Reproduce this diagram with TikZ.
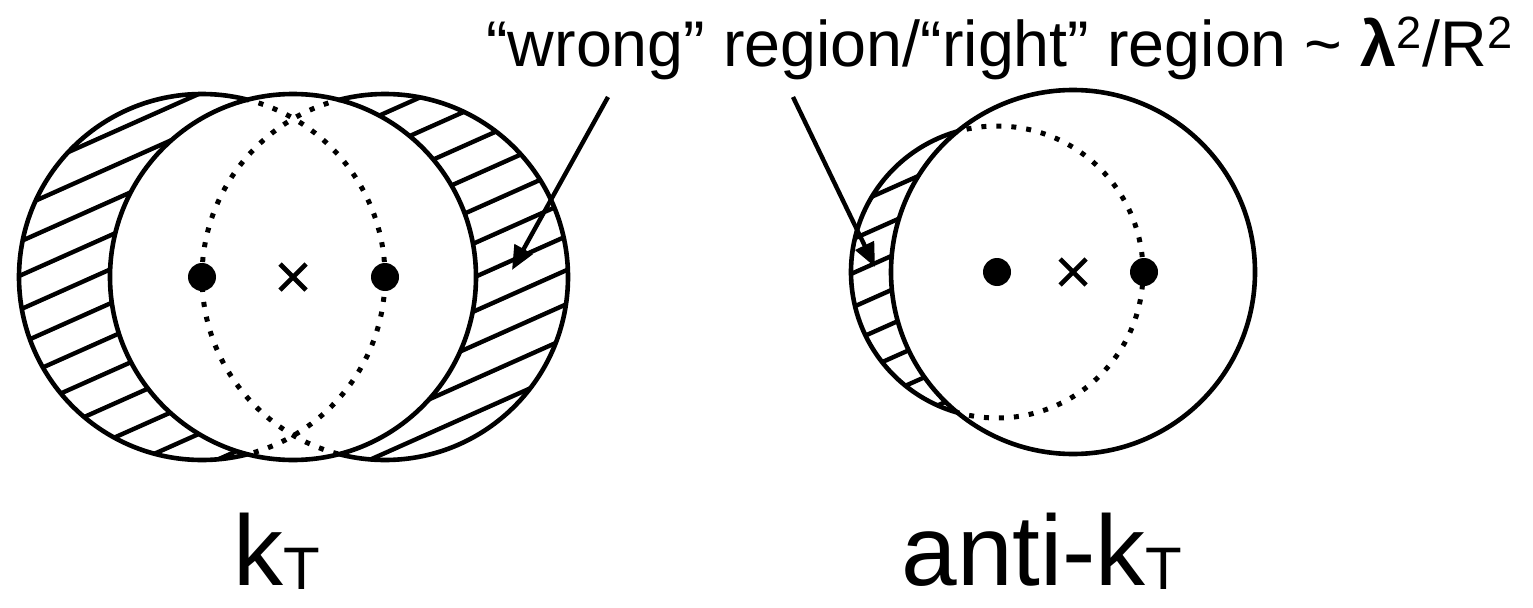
\documentclass[tikz,border=0pt]{standalone}
\usepackage{fontspec}
\setmainfont{Liberation Sans}
\usetikzlibrary{arrows.meta}
\newdimen\unitsize
\setlength{\unitsize}{0.5pt}

\begin{document}
\begin{tikzpicture}[x=\unitsize,y=\unitsize,
  rim/.style={line width=2.3pt},
  dotrim/.style={line width=2.5pt,dash pattern=on 2.5pt off 5pt},
  hatch/.style={line width=2.2pt},
  pointer/.style={line width=2.2pt,-{Triangle[length=12pt,width=10pt]}}]
\useasboundingbox (0,0) rectangle (1533,607);
% kT: three cones of radius R
\coordinate (kl) at (202,330);
\coordinate (kc) at (293,330);
\coordinate (kr) at (385,330);
\begin{scope}
  \clip (kl) circle (183) (kr) circle (183);
  \foreach \hk in {-10,...,10}
    \draw[hatch] ({293-330},{351+34*\hk-147}) -- ++(660,294);
\end{scope}
\draw[rim] (kl) circle (183) (kr) circle (183);
\fill[white] (kc) circle (183);
\begin{scope}
  \clip (kc) circle (183);
  \draw[dotrim] (kl) circle (183) (kr) circle (183);
\end{scope}
\draw[rim] (kc) circle (183);
\fill (kl) circle (14) (kr) circle (14);
\draw[rim] (kc) ++(-13,-13) -- ++(26,26) (kc) ++(-13,13) -- ++(26,-26);
% anti-kT
\coordinate (al) at (997,335);
\coordinate (ac) at (1073,335);
\coordinate (ar) at (1144,335);
\begin{scope}
  \clip (al) circle (146);
  \foreach \hk in {-7,...,7}
    \draw[hatch] ({997-200},{364+34*\hk-89}) -- ++(400,178);
\end{scope}
\draw[rim] (al) circle (146);
\fill[white] (ac) circle (182);
\begin{scope}
  \clip (ac) circle (182);
  \draw[dotrim] (al) circle (146);
\end{scope}
\draw[rim] (ac) circle (182);
\fill (al) circle (14) (ar) circle (14);
\draw[rim] (ac) ++(-13,-13) -- ++(26,26) (ac) ++(-13,13) -- ++(26,-26);
% labels
\node[anchor=base west,inner sep=0,font=\fontsize{32.3}{36}\selectfont] (ratio) at (486,540)
  {“wrong” region/“right” region \textasciitilde\ \textbf{λ}\textsuperscript{2}/R\textsuperscript{2}};
\coordinate (tailL) at (608,510);
\coordinate (tipL) at (512,337);
\coordinate (tailR) at (793,510);
\coordinate (tipR) at (875,340);
\draw[pointer] (tailL) -- (tipL);
\draw[pointer] (tailR) -- (tipR);
\node[anchor=base west,inner sep=0,font=\fontsize{50}{52}\selectfont] (ktname) at (233,22)
  {k\raisebox{-2pt}{\fontsize{30}{30}\selectfont T}};
\node[anchor=base west,inner sep=0,font=\fontsize{50}{52}\selectfont] (antiname) at (901,22)
  {anti-k\raisebox{-2pt}{\fontsize{30}{30}\selectfont T}};
\end{tikzpicture}
\end{document}
